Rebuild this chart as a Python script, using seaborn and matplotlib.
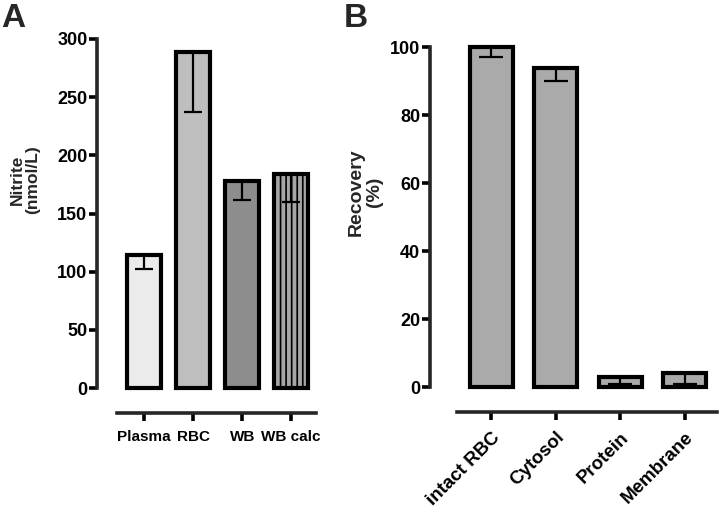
"""Nitrite in blood fractions (A) and recovery after RBC fractionation (B)."""

import matplotlib

matplotlib.use("Agg")
import matplotlib.pyplot as plt
import numpy as np
import seaborn as sns

# panel A: nitrite per blood fraction (mean, one-sided SD hanging down)
A_CATS = ["Plasma", "RBC", "WB", "WB calc"]
A_VALS = [114, 289, 178, 184]
A_ERR = [12, 52, 16, 24]
A_COLORS = ["#ebebeb", "#bebebe", "#8d8d8d", "#a6a6a6"]
A_YTICKS = [0, 50, 100, 150, 200, 250, 300]

# panel B: recovery per RBC fraction
B_CATS = ["intact RBC", "Cytosol", "Protein", "Membrane"]
B_VALS = [100, 94, 3, 4]
B_ERR = [3, 4, 2, 3]
B_COLOR = "#aaaaaa"
B_YTICKS = [0, 20, 40, 60, 80, 100]

sns.set_theme(style="ticks")
plt.rcParams["font.family"] = ["Liberation Sans", "DejaVu Sans"]
plt.rcParams["font.weight"] = "bold"
plt.rcParams["hatch.linewidth"] = 1.2

SPINE_W = 2.6


def style_axes(ax, yticks, xlo, xhi, xsize):
    for side in ("top", "right"):
        ax.spines[side].set_visible(False)
    ax.spines["left"].set_linewidth(SPINE_W)
    ax.spines["bottom"].set_linewidth(SPINE_W)
    ax.spines["left"].set_bounds(yticks[0], yticks[-1])
    ax.spines["bottom"].set_position(("outward", 18))
    ax.spines["bottom"].set_bounds(xlo, xhi)
    ax.set_yticks(yticks)
    ax.set_ylim(yticks[0], yticks[-1])
    ax.tick_params(axis="y", length=6, width=SPINE_W, labelsize=13, pad=1,
                   colors="black")
    ax.tick_params(axis="x", length=6, width=SPINE_W, labelsize=xsize, pad=6,
                   colors="black")
    for lbl in ax.get_xticklabels() + ax.get_yticklabels():
        lbl.set_fontweight("bold")
    ax.set_xlabel("")
    for p in ax.patches:
        p.set_clip_on(False)


fig = plt.figure(figsize=(7.2, 5.12), dpi=100)

# ---- panel A ---------------------------------------------------------------
axA = fig.add_axes([0.135, 0.242, 0.3035, 0.682])
sns.barplot(x=A_CATS, y=A_VALS, hue=A_CATS, palette=A_COLORS, legend=False,
            width=0.7, edgecolor="black", linewidth=3, saturation=1, ax=axA)
axA.patches[3].set_hatch("|||")
axA.errorbar(np.arange(len(A_CATS)), A_VALS, yerr=[A_ERR, np.zeros(len(A_ERR))],
             fmt="none", ecolor="black", elinewidth=1.6, capsize=6.5,
             capthick=1.6, zorder=5)
axA.set_xlim(-0.96, 3.5)
style_axes(axA, A_YTICKS, -0.55, 3.5, 11)
axA.set_ylabel("Nitrite\n(nmol/L)", fontsize=12.5, fontweight="bold",
               linespacing=1.05)
axA.yaxis.set_label_coords(-0.26, 0.596)

# ---- panel B ---------------------------------------------------------------
axB = fig.add_axes([0.597, 0.244, 0.399, 0.664])
sns.barplot(x=B_CATS, y=B_VALS, color=B_COLOR, width=0.67, edgecolor="black",
            linewidth=3, saturation=1, ax=axB)
axB.errorbar(np.arange(len(B_CATS)), B_VALS, yerr=[B_ERR, np.zeros(len(B_ERR))],
             fmt="none", ecolor="black", elinewidth=1.6, capsize=8.5,
             capthick=1.6, zorder=5)
axB.set_xlim(-0.953, 3.5)
style_axes(axB, B_YTICKS, -0.535, 3.5, 13.5)
plt.setp(axB.get_xticklabels(), rotation=45, ha="right",
         rotation_mode="anchor")
axB.set_ylabel("Recovery\n(%)", fontsize=14, fontweight="bold",
               linespacing=1.05)
axB.yaxis.set_label_coords(-0.164, 0.574)

fig.text(0.002, 0.995, "A", fontsize=24, fontweight="bold", va="top")
fig.text(0.478, 0.995, "B", fontsize=24, fontweight="bold", va="top")

fig.savefig("out.png", dpi=100)
